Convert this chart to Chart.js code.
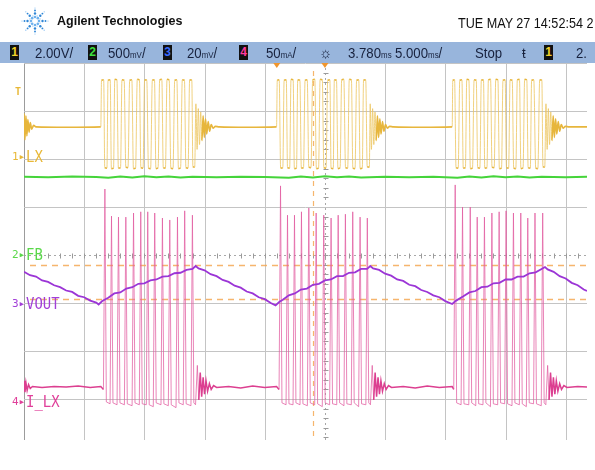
<!DOCTYPE html>
<html><head><meta charset="utf-8">
<script src="https://cdn.jsdelivr.net/npm/chart.js@4.4.1/dist/chart.umd.min.js"></script>
<style>
html,body{margin:0;padding:0;background:#fff;}
body{width:595px;height:470px;overflow:hidden;position:relative;font-family:"Liberation Sans",Arial,sans-serif;}
#c{position:absolute;left:0;top:0;}
.t{position:absolute;white-space:nowrap;color:#111;}
#bar{position:absolute;left:0;top:42px;width:595px;height:21px;background:#98b5dc;overflow:hidden;}
.bi{position:absolute;top:1px;font-size:15px;line-height:19px;color:#17213d;transform-origin:0 50%;transform:scaleX(0.88);white-space:nowrap;}
.u{font-size:9px;}
.box{position:absolute;top:3px;width:9px;height:15px;background:#111;font-size:12px;line-height:15px;text-align:center;font-weight:bold;}
.num{position:absolute;font-family:"DejaVu Sans Mono",monospace;font-size:11px;line-height:12px;white-space:nowrap;}
.lab{position:absolute;font-family:"DejaVu Sans Mono",monospace;font-size:15px;line-height:14px;white-space:nowrap;transform-origin:0 50%;transform:scaleX(0.93);}
</style></head><body>
<canvas id="c" width="595" height="470"></canvas>
<svg id="logo" style="position:absolute;left:21px;top:7px" width="28" height="28" viewBox="-14 -14 28 28"></svg>
<div class="t" style="left:57px;top:14px;font-weight:bold;font-size:12.5px;">Agilent Technologies</div>
<div class="t" style="left:458px;top:15px;font-size:14px;transform:scaleX(0.9);transform-origin:0 0;">TUE MAY 27 14:52:54 2</div>
<div id="bar">
  <div class="box" style="left:10px;color:#f2d12a">1</div>
  <div class="bi" style="left:35px">2.00V/</div>
  <div class="box" style="left:88px;color:#3de03d">2</div>
  <div class="bi" style="left:108px">500<span class="u">mV</span>/</div>
  <div class="box" style="left:163px;color:#3a6cff">3</div>
  <div class="bi" style="left:187px">20<span class="u">mV</span>/</div>
  <div class="box" style="left:239px;color:#ff3aa0">4</div>
  <div class="bi" style="left:266px">50<span class="u">mA</span>/</div>
  <div class="bi" style="left:319px;font-size:16px">☼</div>
  <div class="bi" style="left:348px">3.780<span class="u">ms</span></div>
  <div class="bi" style="left:395px">5.000<span class="u">ms</span>/</div>
  <div class="bi" style="left:475px">Stop</div>
  <div class="bi" style="left:522px">ŧ</div>
  <div class="box" style="left:544px;color:#f2d12a">1</div>
  <div class="bi" style="left:576px">2.</div>
</div>
<div class="num" style="left:15px;top:86px;color:#e8b838;font-size:10px;font-weight:bold">T</div>
<div class="num" style="left:12px;top:151px;color:#e8b838">1▸</div>
<div class="lab" style="left:26px;top:150px;color:#e8b838">LX</div>
<div class="num" style="left:12px;top:249px;color:#5ad84a">2▸</div>
<div class="lab" style="left:26px;top:248px;color:#5ad84a">FB</div>
<div class="num" style="left:12px;top:298px;color:#a23fd8">3▸</div>
<div class="lab" style="left:26px;top:297px;color:#a23fd8">VOUT</div>
<div class="num" style="left:12px;top:396px;color:#e0409a">4▸</div>
<div class="lab" style="left:26px;top:395px;color:#e0409a">I_LX</div>
<script>
// ---- data: [time in ms (5 ms/div), level in screen divisions (0 = centre line)] ----
const gridTimes = [0,5,10,15,20,25,30,35,40,45];
const gridLevels = [-3,-2,-1,0,1,2,3,4];
const cursorLevels = [-0.21,-0.92];
const cursorTimes = [24.0];
const markerTimes = [21.0,25.0];

// channel 1 (LX, yellow)
const lxTrace = [
[0,2.95],[0.08,2.40],[0.16,2.90],[0.24,2.48],[0.32,2.82],[0.42,2.56],[0.52,2.76],[0.64,2.62],[0.8,2.70],[1.0,2.67],[3.5,2.66],[6.38,2.67],
[6.44,3.64],[6.62,3.65],[6.71,1.82],[6.89,1.81],[6.98,3.64],[7.16,3.65],[7.26,1.80],[7.44,1.81],[7.54,3.66],[7.72,3.65],[7.84,1.81],[8.02,1.82],
[8.14,3.65],[8.32,3.64],[8.46,1.83],[8.64,1.82],[8.78,3.64],[8.96,3.65],[9.09,1.80],[9.27,1.81],[9.41,3.66],[9.59,3.65],[9.71,1.82],[9.89,1.81],
[10.02,3.65],[10.20,3.64],[10.34,1.81],[10.52,1.80],[10.66,3.64],[10.84,3.65],[10.96,1.80],[11.14,1.82],[11.27,3.65],[11.45,3.66],[11.57,1.82],[11.75,1.81],
[11.88,3.66],[12.06,3.65],[12.20,1.81],[12.38,1.80],[12.52,3.64],[12.70,3.65],[12.83,1.80],[13.01,1.82],[13.15,3.65],[13.33,3.64],[13.45,1.82],[13.63,1.81],
[13.76,3.65],[13.94,3.64],[14.03,1.84],[14.18,1.83],
[14.28,3.15],[14.38,2.20],[14.48,3.05],[14.58,2.30],[14.68,2.98],[14.78,2.38],[14.88,2.90],[14.98,2.45],[15.08,2.84],[15.18,2.52],[15.30,2.78],[15.42,2.58],
[15.55,2.72],[15.70,2.64],[15.90,2.68],[16.20,2.67],[18.50,2.66],[20.98,2.67],
[21.04,3.64],[21.20,3.65],[21.32,1.81],[21.50,1.82],[21.61,3.64],[21.79,3.65],[21.89,1.82],[22.07,1.81],[22.18,3.66],[22.36,3.65],[22.46,1.80],[22.64,1.81],
[22.74,3.65],[22.92,3.64],[23.04,1.81],[23.22,1.82],[23.35,3.64],[23.53,3.65],[23.66,1.83],[23.84,1.82],[23.98,3.65],[24.16,3.66],[24.29,1.80],[24.47,1.81],
[24.60,3.66],[24.78,3.65],[24.91,1.82],[25.09,1.81],[25.23,3.64],[25.41,3.65],[25.51,1.81],[25.69,1.80],[25.78,3.65],[25.96,3.64],[26.08,1.80],[26.26,1.82],
[26.39,3.65],[26.57,3.66],[26.71,1.82],[26.89,1.81],[27.02,3.66],[27.20,3.65],[27.32,1.81],[27.50,1.80],[27.63,3.64],[27.81,3.65],[27.92,1.80],[28.10,1.81],
[28.21,3.65],[28.39,3.64],[28.51,1.84],[28.69,1.83],
[28.76,3.15],[28.86,2.20],[28.96,3.05],[29.06,2.30],[29.16,2.98],[29.26,2.38],[29.36,2.90],[29.46,2.45],[29.56,2.84],[29.66,2.52],[29.78,2.78],[29.90,2.58],
[30.03,2.72],[30.18,2.64],[30.38,2.68],[30.68,2.67],[33.0,2.66],[35.57,2.67],
[35.62,3.64],[35.77,3.65],[35.89,1.82],[36.07,1.81],[36.20,3.64],[36.38,3.65],[36.49,1.81],[36.67,1.82],[36.78,3.66],[36.96,3.65],[37.08,1.80],[37.26,1.81],
[37.39,3.65],[37.57,3.64],[37.69,1.82],[37.87,1.81],[37.99,3.64],[38.17,3.65],[38.28,1.81],[38.46,1.82],[38.58,3.65],[38.76,3.66],[38.88,1.83],[39.06,1.82],
[39.19,3.66],[39.37,3.65],[39.49,1.80],[39.67,1.81],[39.79,3.64],[39.97,3.65],[40.08,1.82],[40.26,1.81],[40.38,3.65],[40.56,3.64],[40.68,1.81],[40.86,1.80],
[40.98,3.65],[41.16,3.66],[41.28,1.80],[41.46,1.82],[41.59,3.66],[41.77,3.65],[41.88,1.82],[42.06,1.81],[42.17,3.64],[42.35,3.65],[42.51,1.81],[42.69,1.80],
[42.84,3.65],[43.02,3.64],[43.11,1.84],[43.26,1.83],
[43.36,3.15],[43.46,2.20],[43.56,3.05],[43.66,2.30],[43.76,2.98],[43.86,2.38],[43.96,2.90],[44.06,2.45],[44.16,2.84],[44.26,2.52],[44.38,2.78],[44.50,2.58],
[44.63,2.72],[44.78,2.64],[44.98,2.68],[45.28,2.67],[46.77,2.67]];

// channel 2 (FB, green)
const fbTrace = [[0,1.63],[2,1.62],[4,1.635],[6,1.625],[7,1.61],[8,1.635],[9,1.615],[10,1.64],[11,1.62],[12,1.635],[13,1.615],[14,1.63],[16,1.62],[18,1.63],
[20,1.625],[22,1.61],[23,1.635],[24,1.615],[25,1.64],[26,1.62],[27,1.635],[28,1.615],[30,1.63],[32,1.62],[34,1.63],[36,1.61],[37,1.635],[38,1.615],[39,1.64],
[40,1.62],[41,1.635],[42,1.615],[43,1.63],[45,1.62],[46.77,1.63]];

// channel 3 (VOUT, purple)
const voutTrace = [[0,-0.35],[0.5,-0.42],[1,-0.45],[1.5,-0.53],[2,-0.56],[2.5,-0.63],[3,-0.67],[3.5,-0.74],[4,-0.77],[4.5,-0.85],[5,-0.88],[5.5,-0.95],[6,-0.99],[6.2,-1.03],
[6.5,-0.96],[7,-0.89],[7.5,-0.80],[8,-0.78],[8.5,-0.70],[9,-0.67],[9.5,-0.60],[10,-0.59],[10.5,-0.53],[11,-0.51],[11.5,-0.45],[12,-0.44],[12.5,-0.38],[13,-0.37],[13.5,-0.31],[14,-0.29],[14.26,-0.23],
[14.5,-0.28],[15,-0.32],[15.5,-0.40],[16,-0.44],[16.5,-0.52],[17,-0.56],[17.5,-0.64],[18,-0.68],[18.5,-0.76],[19,-0.80],[19.5,-0.88],[20,-0.92],[20.5,-1.00],[20.9,-1.05],
[21.2,-0.98],[21.5,-0.93],[22,-0.84],[22.5,-0.80],[23,-0.72],[23.5,-0.70],[24,-0.62],[24.5,-0.60],[25,-0.53],[25.5,-0.51],[26,-0.44],[26.5,-0.44],[27,-0.37],[27.5,-0.36],[28,-0.29],[28.5,-0.29],[28.77,-0.23],
[29,-0.28],[29.5,-0.31],[30,-0.39],[30.5,-0.43],[31,-0.51],[31.5,-0.54],[32,-0.62],[32.5,-0.65],[33,-0.73],[33.5,-0.77],[34,-0.84],[34.5,-0.88],[35,-0.96],[35.57,-1.02],
[35.9,-0.95],[36.5,-0.86],[37,-0.78],[37.5,-0.75],[38,-0.67],[38.5,-0.66],[39,-0.59],[39.5,-0.58],[40,-0.51],[40.5,-0.51],[41,-0.45],[41.5,-0.45],[42,-0.38],[42.5,-0.36],[43,-0.29],[43.28,-0.25],
[43.5,-0.30],[44,-0.35],[44.5,-0.44],[45,-0.49],[45.5,-0.58],[46,-0.63],[46.5,-0.72],[46.77,-0.75]];

// channel 4 (I_LX, pink)
const ilxTrace = [
[0,-2.62],[0.08,-2.86],[0.16,-2.66],[0.26,-2.82],[0.38,-2.70],[0.52,-2.78],[0.70,-2.74],[1.5,-2.76],[2.5,-2.74],[3.5,-2.75],[4.5,-2.73],[5.5,-2.76],[6.38,-2.74],
[6.60,-2.80],[6.72,1.375],[6.84,-3.06],[7.15,-3.10],[7.27,0.81],[7.39,-3.08],[7.73,-3.12],[7.85,0.79],[7.97,-3.08],[8.34,-3.12],[8.46,0.79],[8.58,-3.10],
[8.98,-3.14],[9.10,0.875],[9.22,-3.08],[9.58,-3.12],[9.70,0.90],[9.82,-3.10],[10.16,-3.12],[10.28,0.90],[10.40,-3.12],[10.74,-3.16],[10.86,0.875],[10.98,-3.08],
[11.38,-3.12],[11.50,0.77],[11.62,-3.10],[11.99,-3.14],[12.11,0.73],[12.23,-3.12],[12.63,-3.18],[12.75,0.79],[12.87,-3.08],[13.23,-3.12],[13.35,0.92],[13.47,-3.10],
[13.87,-3.14],[13.99,0.83],[14.11,-3.08],[14.25,-3.12],
[14.40,-2.30],[14.52,-3.02],[14.64,-2.45],[14.76,-2.95],[14.88,-2.55],[15.00,-2.90],[15.12,-2.62],[15.25,-2.84],[15.40,-2.68],[15.55,-2.80],[15.75,-2.72],[16.0,-2.76],
[17.0,-2.74],[18.0,-2.77],[19.0,-2.73],[20.0,-2.76],[20.98,-2.74],
[21.19,-2.80],[21.31,1.44],[21.43,-3.08],[21.77,-3.12],[21.89,0.83],[22.01,-3.10],[22.35,-3.12],[22.47,0.83],[22.59,-3.08],[22.93,-3.12],[23.05,0.90],[23.17,-3.10],
[23.54,-3.14],[23.66,0.98],[23.78,-3.08],[24.15,-3.12],[24.27,0.875],[24.39,-3.10],[24.78,-3.16],[24.90,0.83],[25.02,-3.08],[25.39,-3.12],[25.51,0.77],[25.63,-3.10],
[25.98,-3.12],[26.10,0.83],[26.22,-3.08],[26.58,-3.14],[26.70,0.85],[26.82,-3.10],[27.19,-3.12],[27.31,0.90],[27.43,-3.08],[27.80,-3.16],[27.92,0.79],[28.04,-3.10],
[28.40,-3.12],[28.52,0.77],[28.64,-3.08],[28.78,-3.12],
[28.93,-2.30],[29.05,-3.02],[29.17,-2.45],[29.29,-2.95],[29.41,-2.55],[29.53,-2.90],[29.65,-2.62],[29.78,-2.84],[29.93,-2.68],[30.08,-2.80],[30.28,-2.72],[30.53,-2.76],
[31.5,-2.74],[32.5,-2.77],[33.5,-2.73],[34.5,-2.76],[35.57,-2.74],
[35.70,-2.80],[35.82,1.46],[35.94,-3.08],[36.31,-3.12],[36.43,1.0],[36.55,-3.10],[36.95,-3.12],[37.07,1.0],[37.19,-3.08],[37.53,-3.14],[37.65,0.79],[37.77,-3.10],
[38.13,-3.12],[38.25,0.79],[38.37,-3.08],[38.75,-3.16],[38.87,0.875],[38.99,-3.10],[39.35,-3.12],[39.47,0.90],[39.59,-3.08],[39.93,-3.10],[40.05,0.92],[40.17,-3.10],
[40.54,-3.14],[40.66,0.875],[40.78,-3.08],[41.15,-3.12],[41.27,0.875],[41.39,-3.10],[41.73,-3.16],[41.85,0.77],[41.97,-3.08],[42.33,-3.10],[42.45,0.875],[42.57,-3.10],
[42.97,-3.14],[43.09,0.875],[43.21,-3.08],[43.35,-3.12],
[43.50,-2.30],[43.62,-3.02],[43.74,-2.45],[43.86,-2.95],[43.98,-2.55],[44.10,-2.90],[44.22,-2.62],[44.35,-2.84],[44.50,-2.68],[44.65,-2.80],[44.85,-2.72],[45.10,-2.76],
[46.0,-2.74],[46.77,-2.75]];

// ---- logo (decorative) ----
(function(){
  const svg=document.getElementById('logo'); let s='';
  for(let k=0;k<8;k++){
    const a=k*Math.PI/4;
    [[4,1.3,'#6fb2ee'],[7.5,1.2,'#2f86d6'],[10.5,0.95,'#2f86d6'],[13,0.6,'#7fbaf0']].forEach(([r,sz,c])=>{
      s+=`<circle cx="${(r*Math.cos(a)).toFixed(2)}" cy="${(r*Math.sin(a)).toFixed(2)}" r="${sz}" fill="${c}"/>`;
    });
    const b=a+Math.PI/8;
    s+=`<circle cx="${(5.5*Math.cos(b)).toFixed(2)}" cy="${(5.5*Math.sin(b)).toFixed(2)}" r="0.7" fill="#9ccaf4"/>`;
  }
  svg.innerHTML=s;
})();

const pts=tr=>tr.map(p=>({x:p[0],y:p[1]}));

const graticule={
  id:'graticule',
  beforeDatasetsDraw(chart){
    const {ctx,chartArea:a,scales:{x,y}}=chart;
    ctx.save();
    ctx.lineWidth=1;
    gridTimes.forEach(v=>{
      const p=Math.round(x.getPixelForValue(v))+0.5;
      if(v===25){
        ctx.strokeStyle='#a8a8a8';ctx.setLineDash([2,3]);
        ctx.beginPath();ctx.moveTo(p,a.top);ctx.lineTo(p,a.bottom);ctx.stroke();
        ctx.setLineDash([]);
        ctx.strokeStyle='#9a9a9a';
        for(let g=-19;g<=20;g++){const q=Math.round(y.getPixelForValue(g*0.2))+0.5;if(q<a.top||q>a.bottom)continue;ctx.beginPath();ctx.moveTo(p-2,q);ctx.lineTo(p+3,q);ctx.stroke();}
      } else {
        ctx.strokeStyle=v===0?'#9c9c9c':'#c4c4c4';
        ctx.beginPath();ctx.moveTo(p,a.top);ctx.lineTo(p,a.bottom);ctx.stroke();
      }
    });
    gridLevels.forEach(v=>{
      const q=Math.round(y.getPixelForValue(v))+0.5;
      if(v===0){
        ctx.strokeStyle='#a8a8a8';ctx.setLineDash([2,3]);
        ctx.beginPath();ctx.moveTo(a.left,q);ctx.lineTo(a.right,q);ctx.stroke();
        ctx.setLineDash([]);
        ctx.strokeStyle='#9a9a9a';
        for(let g=0;g<=50;g++){const p=Math.round(x.getPixelForValue(g))+0.5;if(p>a.right)continue;ctx.beginPath();ctx.moveTo(p,q-2);ctx.lineTo(p,q+3);ctx.stroke();}
      } else {
        ctx.strokeStyle='#c4c4c4';
        ctx.beginPath();ctx.moveTo(a.left,q);ctx.lineTo(a.right,q);ctx.stroke();
      }
    });
    ctx.strokeStyle='rgba(244,168,84,0.85)';
    ctx.lineWidth=1.5;ctx.setLineDash([6,5]);
    cursorLevels.forEach(v=>{const q=Math.round(y.getPixelForValue(v))+0.5;ctx.beginPath();ctx.moveTo(a.left+6,q);ctx.lineTo(a.right,q);ctx.stroke();});
    ctx.lineWidth=1.2;ctx.setLineDash([5,5]);
    cursorTimes.forEach(v=>{const p=Math.round(x.getPixelForValue(v))+0.5;ctx.beginPath();ctx.moveTo(p,a.top+8);ctx.lineTo(p,a.bottom);ctx.stroke();});
    ctx.restore();
  },
  afterDatasetsDraw(chart){
    const {ctx,chartArea:a,scales:{x}}=chart;
    ctx.save();ctx.fillStyle='#f0962e';
    markerTimes.forEach(v=>{const p=x.getPixelForValue(v);ctx.beginPath();ctx.moveTo(p-3.5,a.top);ctx.lineTo(p+3.5,a.top);ctx.lineTo(p,a.top+5);ctx.closePath();ctx.fill();});
    ctx.restore();
  }
};

const steep=(lim,c1,c2)=>ctx=>Math.abs(ctx.p1.parsed.y-ctx.p0.parsed.y)>lim?c1:c2;
const steepW=(lim,w1,w2)=>ctx=>Math.abs(ctx.p1.parsed.y-ctx.p0.parsed.y)>lim?w1:w2;
const pinkPale=ctx=>Math.abs(ctx.p1.parsed.y-ctx.p0.parsed.y)>0.6||Math.max(ctx.p0.parsed.y,ctx.p1.parsed.y)<-3.0;

new Chart(document.getElementById('c'),{
  type:'line',
  data:{datasets:[
    {label:'VOUT',data:pts(voutTrace),borderColor:'#9b35d6',borderWidth:1.8},
    {label:'LX',data:pts(lxTrace),borderColor:'#e7b63c',borderWidth:1.6,cubicInterpolationMode:'monotone',
      segment:{borderColor:steep(0.6,'rgba(236,198,96,0.8)','#e7b63c'),borderWidth:steepW(0.6,1,1.6)}},
    {label:'FB',data:pts(fbTrace),borderColor:'#45d43a',borderWidth:2},
    {label:'I_LX',data:pts(ilxTrace),borderColor:'#dc3f90',borderWidth:1.5,
      segment:{borderColor:c=>pinkPale(c)?'rgba(226,92,160,0.75)':'#dc3f90',borderWidth:c=>pinkPale(c)?1:1.5}}
  ]},
  options:{
    responsive:false,animation:false,
    layout:{padding:{left:24,right:8,top:63,bottom:30}},
    elements:{point:{radius:0},line:{tension:0}},
    scales:{
      x:{type:'linear',min:0,max:46.77,display:false},
      y:{type:'linear',min:-3.854,max:4,display:false}
    },
    plugins:{legend:{display:false},tooltip:{enabled:false}}
  },
  plugins:[graticule]
});
</script>
</body></html>
